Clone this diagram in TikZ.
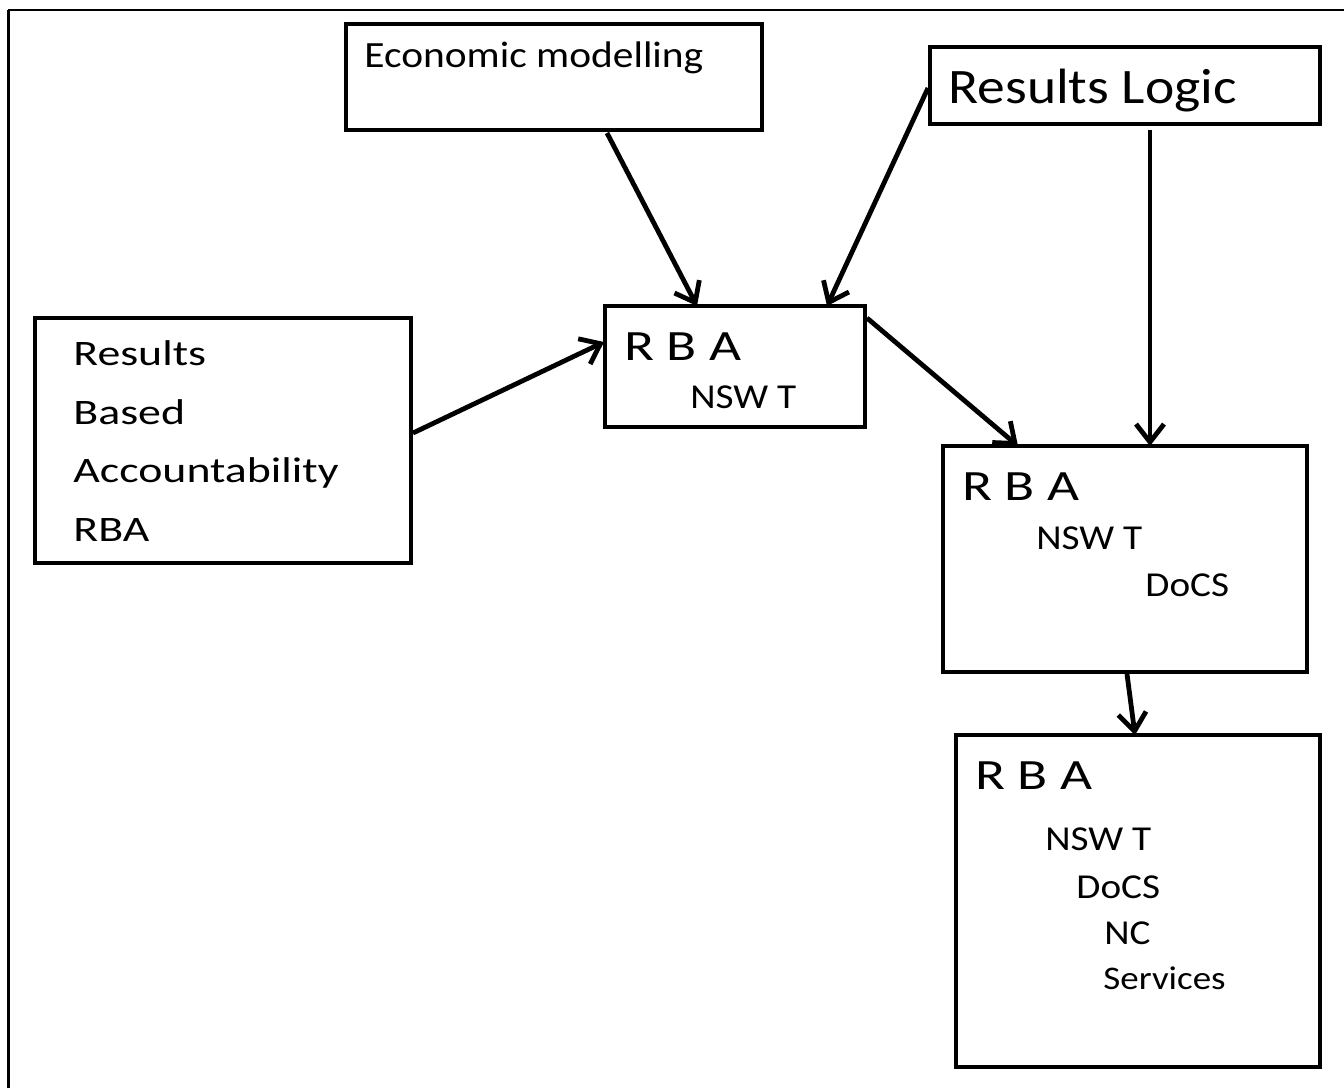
\documentclass[tikz,border=0pt]{standalone}
\usepackage{fontspec}
\setmainfont{Carlito}
\newfontfamily\fa[FakeStretch=1.12]{Carlito}
\newfontfamily\fb[FakeStretch=1.28]{Carlito}
\usetikzlibrary{arrows.meta,fit}
\begin{document}
\begin{tikzpicture}[x=0.5pt,y=-0.5pt,
  box/.style={draw,line width=1.8pt,inner sep=0pt,rectangle},
  txt/.style={anchor=base west,inner sep=0pt},
  conn/.style={line width=2.4pt,-{Straight Barb[length=9pt,width=14pt,line width=2.4pt]}}]
\useasboundingbox (0,0) rectangle (1344,1088);
% outer frame (left and top edges)
\draw[line width=1.5pt] (8,1088) -- (8,10);
\draw[line width=1pt] (8,10) -- (1344,10);
% boxes
\node[box,fit={(346,24)(762,130)}] (econ) {};
\node[box,fit={(930,47)(1320,124)}] (rlogic) {};
\node[box,fit={(605,306)(865,427)}] (mid) {};
\node[box,fit={(35,318)(411,563)}] (left) {};
\node[box,fit={(943,446)(1307,672)}] (bthree) {};
\node[box,fit={(956,735)(1320,1067)}] (bfour) {};
% texts
\node[txt,font=\fa\fontsize{18.5pt}{22pt}\selectfont] (t1) at (364,67) {Economic modelling};
\node[txt,font=\fa\fontsize{24.8pt}{30pt}\selectfont] (t2) at (948,103) {Results Logic};
\node[txt,font=\fb\fontsize{17.9pt}{21pt}\selectfont] (l1) at (73,365) {Results};
\node[txt,font=\fb\fontsize{17.9pt}{21pt}\selectfont] (l2) at (73,424) {Based};
\node[txt,font=\fb\fontsize{17.9pt}{21pt}\selectfont] (l3) at (73,482) {Accountability};
\node[txt,font=\fb\fontsize{21.6pt}{26pt}\selectfont] (m1) at (624,360) {R B A};
\node[txt,font=\fa\fontsize{17.5pt}{20pt}\selectfont] (m2) at (690,408) {NSW T};
\node[txt,font=\fb\fontsize{21.6pt}{26pt}\selectfont] (a1) at (962,500) {R B A};
\node[txt,font=\fa\fontsize{17.5pt}{20pt}\selectfont] (a2) at (1036,549) {NSW T};
\node[txt,font=\fa\fontsize{17.5pt}{20pt}\selectfont] (a3) at (1145,596) {DoCS};
\node[txt,font=\fb\fontsize{21.6pt}{26pt}\selectfont] (b1) at (975,789) {R B A};
\node[txt,font=\fa\fontsize{17.5pt}{20pt}\selectfont] (b2) at (1045,850) {NSW T};
\node[txt,font=\fa\fontsize{17.5pt}{20pt}\selectfont] (b3) at (1076,898) {DoCS};
\node[txt,font=\fa\fontsize{17.5pt}{20pt}\selectfont] (b4) at (1104,944) {NC};
\node[txt,font=\fa\fontsize{16.5pt}{20pt}\selectfont] (b5) at (1103,989) {Services};
\node[txt,font=\fb\fontsize{17.9pt}{21pt}\selectfont] (l4) at (73,541) {RBA};
% connector end points
\coordinate (s1) at (607,133);  \coordinate (e1) at (697,306);
\coordinate (s2) at (928,88);   \coordinate (e2) at (827,306);
\coordinate (s3) at (413,433);  \coordinate (e3) at (604,342);
\coordinate (s4) at (867,318);  \coordinate (e4) at (1018,446);
\coordinate (s5) at (1150,130); \coordinate (e5) at (1150,446);
\coordinate (s6) at (1127,674); \coordinate (e6) at (1135,735);
\draw[conn] (s1) -- (e1);
\draw[conn] (s2) -- (e2);
\draw[conn] (s3) -- (e3);
\draw[conn] (s4) -- (e4);
\draw[conn] (s5) -- (e5);
\draw[conn] (s6) -- (e6);
\end{tikzpicture}
\end{document}
